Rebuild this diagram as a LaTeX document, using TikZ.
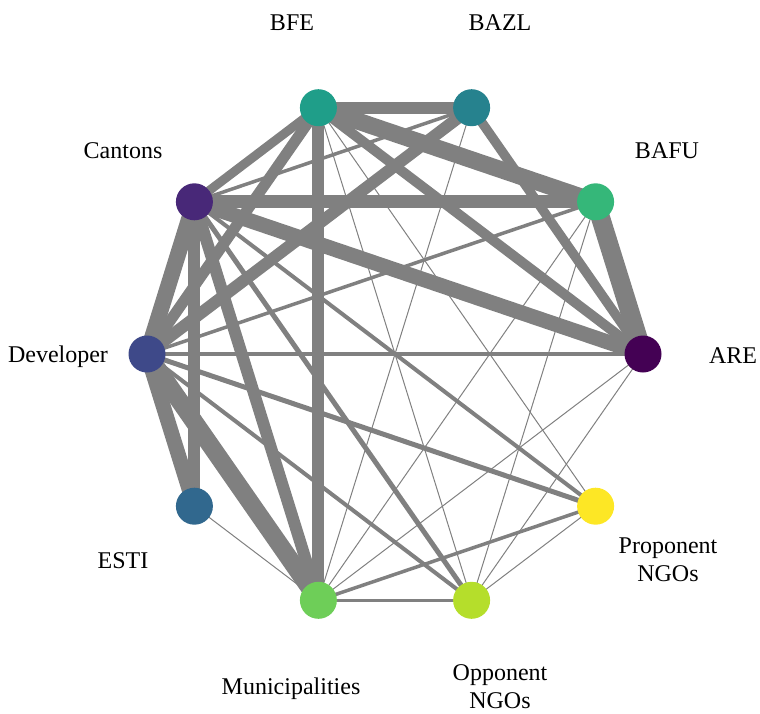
\documentclass[tikz,border=0pt]{standalone}
\usepackage{fontspec}
\setmainfont{Liberation Serif}
\definecolor{cARE}{HTML}{440154}
\definecolor{cCAN}{HTML}{482878}
\definecolor{cDEV}{HTML}{3E4989}
\definecolor{cESTI}{HTML}{31688E}
\definecolor{cBAZL}{HTML}{26828E}
\definecolor{cBFE}{HTML}{1F9E89}
\definecolor{cBAFU}{HTML}{35B779}
\definecolor{cMUN}{HTML}{6ECE58}
\definecolor{cOPP}{HTML}{B5DE2B}
\definecolor{cPRO}{HTML}{FDE725}
\definecolor{edgegray}{HTML}{808080}
\pgfdeclarelayer{bg}
\pgfsetlayers{bg,main}
\begin{document}
\begin{tikzpicture}[x=1pt,y=-1pt,
  edge/.style={draw=edgegray},
  vert/.style={circle,fill=#1,draw=none,minimum size=37pt,inner sep=0pt},
  lab/.style={font=\fontsize{24}{28}\selectfont,inner sep=0pt,align=center,text=black}]
\useasboundingbox (0,0) rectangle (760,713);
% vertices
\node[vert=cARE]  (ARE)  at (643,354)   {};
\node[vert=cBAFU] (BAFU) at (595.6,201.8) {};
\node[vert=cBAZL] (BAZL) at (471.6,107.7) {};
\node[vert=cBFE]  (BFE)  at (318.4,107.7) {};
\node[vert=cCAN]  (CAN)  at (194.4,201.8) {};
\node[vert=cDEV]  (DEV)  at (147,354)   {};
\node[vert=cESTI] (ESTI) at (194.4,506.2) {};
\node[vert=cMUN]  (MUN)  at (318.4,600.3) {};
\node[vert=cOPP]  (OPP)  at (471.6,600.3) {};
\node[vert=cPRO]  (PRO)  at (595.6,506.2) {};
% edges
\begin{pgfonlayer}{bg}
\foreach \a/\b/\w in {
  ARE/BAFU/19, ARE/BAZL/9.5, ARE/BFE/10, ARE/CAN/15, ARE/DEV/3.5, ARE/MUN/1, ARE/OPP/1,
  BAFU/BFE/17, BAFU/CAN/13, BAFU/DEV/3.5, BAFU/MUN/1, BAFU/OPP/1,
  BAZL/BFE/12, BAZL/CAN/3.5, BAZL/DEV/12, BAZL/MUN/1,
  BFE/CAN/9, BFE/DEV/11, BFE/MUN/12, BFE/OPP/1, BFE/PRO/1,
  CAN/DEV/16, CAN/ESTI/12, CAN/MUN/12, CAN/OPP/5, CAN/PRO/4,
  DEV/ESTI/15, DEV/MUN/18, DEV/OPP/4, DEV/PRO/5,
  ESTI/MUN/1, MUN/OPP/3.5, MUN/PRO/3.5, OPP/PRO/1}
  \draw[edge, line width=\w pt] (\a.center) -- (\b.center);
\end{pgfonlayer}
% labels
\node[lab,anchor=base] (lBFE)  at (292,30)  {BFE};
\node[lab,anchor=base] (lBAZL) at (500,30)  {BAZL};
\node[lab,anchor=base] (lBAFU) at (667,158) {BAFU};
\node[lab,anchor=base] (lCAN)  at (123,158) {Cantons};
\node[lab,anchor=base] (lARE)  at (733,363) {ARE};
\node[lab,anchor=base] (lDEV)  at (58,362)  {Developer};
\node[lab,anchor=base] (lESTI) at (123,568) {ESTI};
\node[lab,anchor=base] (lMUN)  at (291,694) {Municipalities};
\node[lab,anchor=north] (lPRO) at (668,538) {Proponent\\NGOs};
\node[lab,anchor=north] (lOPP) at (500,664) {Opponent\\NGOs};
\end{tikzpicture}
\end{document}
